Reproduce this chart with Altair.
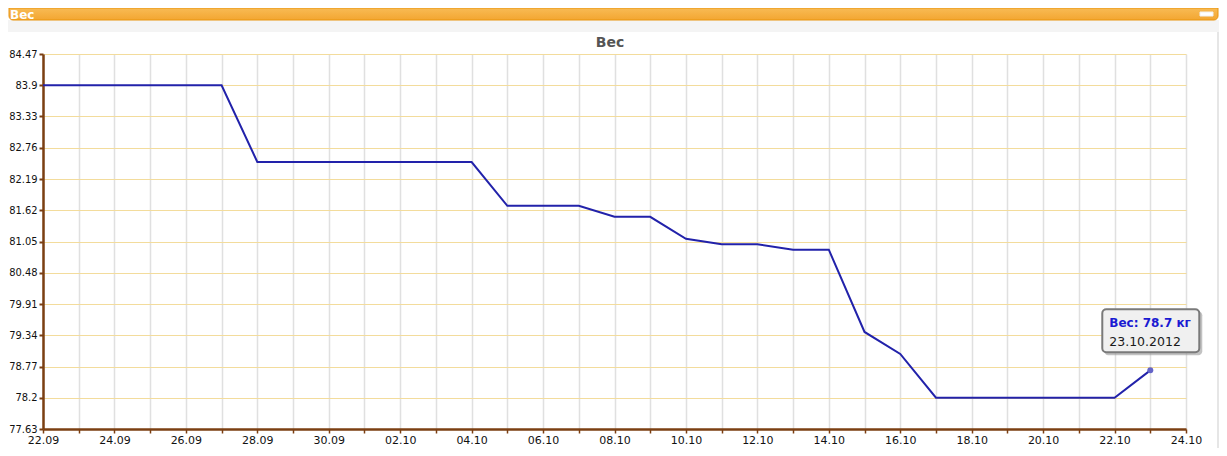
import altair as alt
import pandas as pd

# ---- data ----
dates = ["2012-09-22", "2012-09-27", "2012-09-28", "2012-10-04", "2012-10-05",
         "2012-10-07", "2012-10-08", "2012-10-09", "2012-10-10", "2012-10-11",
         "2012-10-12", "2012-10-13", "2012-10-14", "2012-10-15", "2012-10-16",
         "2012-10-17", "2012-10-22", "2012-10-23"]
weights = [83.9, 83.9, 82.5, 82.5, 81.7,
           81.7, 81.5, 81.5, 81.1, 81.0,
           81.0, 80.9, 80.9, 79.4, 79.0,
           78.2, 78.2, 78.7]
y_ticks = [77.63, 78.2, 78.77, 79.34, 79.91, 80.48, 81.05, 81.62, 82.19, 82.76, 83.33, 83.9, 84.47]
x_domain = ["2012-09-22", "2012-10-24"]
x_ticks = [d.strftime("%Y-%m-%d") for d in pd.date_range("2012-09-22", "2012-10-24", freq="D")]
chart_title = "Вес"
panel_title = "Вес"
tip_line1 = "Вес: 78.7 кг"
tip_line2 = "23.10.2012"

df = pd.DataFrame({"date": pd.to_datetime(dates, utc=True), "w": weights})
last = df.tail(1).assign(t1=tip_line1, t2=tip_line2)

FONT = "DejaVu Sans"
AXFONT = "DejaVu Sans Condensed, DejaVu Sans"
BROWN = "#7b3f12"
W, H = 1143, 375

x_enc = alt.X("date:T",
              scale=alt.Scale(type="utc", domain=[pd.Timestamp(x_domain[0], tz="UTC").isoformat(),
                                                  pd.Timestamp(x_domain[1], tz="UTC").isoformat()]),
              axis=alt.Axis(values=[pd.Timestamp(d, tz="UTC").isoformat() for d in x_ticks],
                            tickCount=len(x_ticks) + 5,
                            labelExpr="utcdate(datum.value) % 2 == 0 ? utcFormat(datum.value, '%d.%m') : ''",
                            title=None, grid=True, gridColor="#e0e0e0", gridWidth=1.5,
                            domainColor=BROWN, domainWidth=2.5, tickColor=BROWN, tickSize=4,
                            tickWidth=1.5, labelFont=FONT, labelFontSize=11, labelColor="#111",
                            labelPadding=1, labelOverlap=False, labelFlush=False))
y_enc = alt.Y("w:Q",
              scale=alt.Scale(domain=[y_ticks[0], y_ticks[-1]], nice=False, zero=False),
              axis=alt.Axis(values=y_ticks, tickCount=len(y_ticks) + 5, format=".4~g", title=None,
                            grid=True, gridColor="#f3dc9c", gridWidth=1.2, domainColor=BROWN,
                            domainWidth=2.5, tickColor=BROWN, tickSize=4, tickWidth=2,
                            labelFont=AXFONT, labelFontSize=11, labelColor="#111", labelPadding=2,
                            labelOverlap=False, labelFlush=False))

one = pd.DataFrame({"a": [0]})

header_grad = alt.Gradient(gradient="linear", x1=0, x2=0, y1=0, y2=1,
                           stops=[alt.GradientStop(color="#f8bb55", offset=0),
                                  alt.GradientStop(color="#f3a631", offset=1)])

grey_strip = alt.Chart(one).mark_rect(color="#f4f4f4").encode(
    x=alt.value(-35), x2=alt.value(1176), y=alt.value(-34), y2=alt.value(-22))
right_strip = alt.Chart(one).mark_rect(color="#e6e6e6").encode(
    x=alt.value(1174), x2=alt.value(1176), y=alt.value(-22), y2=alt.value(395))
header = alt.Chart(one).mark_rect(fill=header_grad, stroke="#e8940f", strokeWidth=1,
                                  cornerRadiusBottomLeft=4, cornerRadiusBottomRight=4).encode(
    x=alt.value(-34), x2=alt.value(1175), y=alt.value(-46), y2=alt.value(-34))
header_text = alt.Chart(one).mark_text(text=panel_title, color="white", font=FONT, fontSize=12,
                                       fontWeight="bold", align="left", baseline="alphabetic").encode(
    x=alt.value(-33), y=alt.value(-35))
minus = alt.Chart(one).mark_rect(color="white", stroke="#f0f0f0").encode(
    x=alt.value(1157), x2=alt.value(1170), y=alt.value(-42), y2=alt.value(-38))
title_text = alt.Chart(one).mark_text(text=chart_title, color="#555555", font=FONT, fontSize=14,
                                      fontWeight="bold", align="center", baseline="alphabetic").encode(
    x=alt.value(567), y=alt.value(-7))

line = alt.Chart(df).mark_line(color="#2222aa", strokeWidth=2).encode(x=x_enc, y=y_enc)
point = alt.Chart(last).mark_circle(color="#6464c8", size=36, opacity=1).encode(x="date:T", y="w:Q")

shadow = alt.Chart(last).mark_rect(fill="#9a9a9a", opacity=0.6, cornerRadius=4,
                                   xOffset=-46, x2Offset=52, yOffset=-59, y2Offset=-15).encode(
    x="date:T", x2="date:T", y="w:Q", y2="w:Q")
box = alt.Chart(last).mark_rect(fill="#f0f0f0", stroke="#7a7a7a", strokeWidth=2, cornerRadius=4,
                                xOffset=-48, x2Offset=49, yOffset=-61, y2Offset=-18).encode(
    x="date:T", x2="date:T", y="w:Q", y2="w:Q")
tip1 = alt.Chart(last).mark_text(align="left", baseline="alphabetic", dx=-41, dy=-43, font=FONT,
                                 fontSize=12, fontWeight="bold", color="#1a1ad2").encode(
    x="date:T", y="w:Q", text="t1:N")
tip2 = alt.Chart(last).mark_text(align="left", baseline="alphabetic", dx=-41, dy=-24, font=FONT,
                                 fontSize=12.5, color="#1a1a1a").encode(
    x="date:T", y="w:Q", text="t2:N")

chart = alt.layer(grey_strip, right_strip, header, header_text, minus, title_text,
                  line, point, shadow, box, tip1, tip2).properties(
    width=W, height=H,
    autosize=alt.AutoSizeParams(type="none"),
    padding={"left": 35, "top": 46, "right": 33, "bottom": 19},
    background="white",
).configure_view(stroke=None)

chart.save("out.html", embed_options={"renderer": "svg", "actions": False})
